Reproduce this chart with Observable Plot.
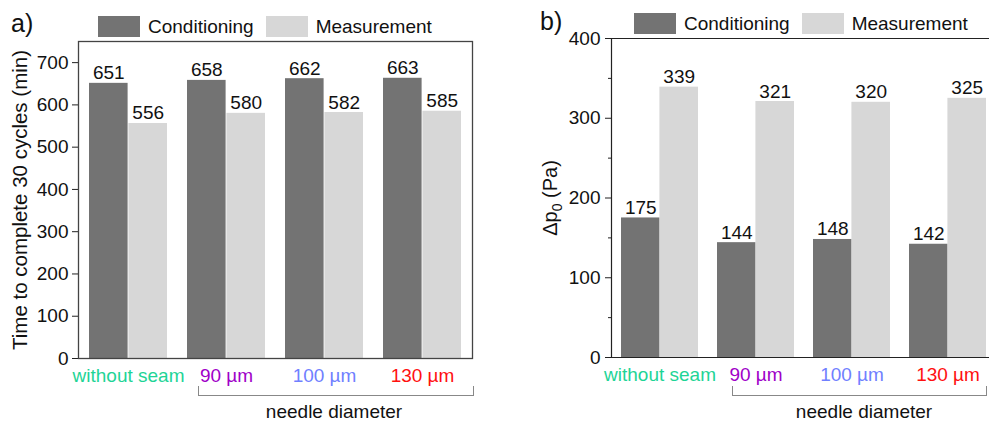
<!DOCTYPE html>
<html><head><meta charset="utf-8">
<script src="https://cdn.jsdelivr.net/npm/d3@7"></script>
<script src="https://cdn.jsdelivr.net/npm/@observablehq/plot@0.6"></script>
<style>
body{margin:0;background:#fff;font-family:"Liberation Sans",Arial,sans-serif;}
#fig{position:relative;width:989px;height:421px;overflow:hidden;background:#fff;}
.panel{position:absolute;top:0;}
.lab{position:absolute;font-size:25px;line-height:25px;color:#111;}
.legend{position:absolute;display:flex;align-items:center;font-size:19px;line-height:21px;color:#111;white-space:nowrap;}
.sw{width:42px;height:21px;margin-right:8px;}
.lt{margin-right:12px;}
.bracket{position:absolute;border:1px solid #888;border-top:none;height:9px;}
.bt{position:absolute;font-size:19px;line-height:19px;transform:translateX(-50%);white-space:nowrap;color:#111;}
</style></head><body><div id="fig"></div>
<script>
const groups = ["without seam", "90 µm", "100 µm", "130 µm"];
const groupColors = ["#1ed496", "#a000c8", "#7080ff", "#ff1010"];
const series = ["Conditioning", "Measurement"];
const seriesColors = ["#737373", "#d7d7d7"];
const timeConditioning = [651, 658, 662, 663];
const timeMeasurement = [556, 580, 582, 585];
const dpConditioning = [175, 144, 148, 142];
const dpMeasurement = [339, 321, 320, 325];
const timeTicks = [0, 100, 200, 300, 400, 500, 600, 700];
const dpTicks = [0, 100, 200, 300, 400];
const dpMinorTicks = [50, 150, 250, 350];
const bracketLabel = "needle diameter";

const fig = document.getElementById("fig");

function panel(o) {
  const height = 421;
  const bw = d3.scaleBand().domain(groups).range([o.ml, o.width - o.mr])
    .paddingInner(0.2).paddingOuter(0.1).bandwidth();
  const rows = groups.flatMap((g, i) => [
    {group: g, series: series[0], value: o.cond[i]},
    {group: g, series: series[1], value: o.meas[i]}
  ]);
  const c = rows.filter(d => d.series === series[0]);
  const m = rows.filter(d => d.series === series[1]);
  const marks = [
    Plot.barY(c, {x: "group", y: "value", fill: seriesColors[0], insetRight: bw / 2}),
    Plot.barY(m, {x: "group", y: "value", fill: seriesColors[1], insetLeft: bw / 2}),
    Plot.text(c, {x: "group", y: "value", text: d => String(d.value), dx: -bw / 4, dy: -4, lineAnchor: "bottom", fill: "#111"}),
    Plot.text(m, {x: "group", y: "value", text: d => String(d.value), dx: bw / 4, dy: -4, lineAnchor: "bottom", fill: "#111"}),
    Plot.text(groups, {x: d => d, text: d => d, frameAnchor: "bottom", lineAnchor: "top", dy: 10, fill: d => d}),
    Plot.axisY(o.ticks, {tickSize: 6, tickPadding: o.tickPadding, label: o.label, labelArrow: "none", labelAnchor: "center", labelOffset: o.labelOffset, stroke: "#222", fill: "#111"})
  ];
  if (o.minor) marks.push(Plot.axisY(o.minor, {tickSize: 3, tickFormat: () => "", label: null, stroke: "#222"}));
  if (o.fullFrame) marks.push(Plot.frame({stroke: "#444", strokeWidth: 1.3}));
  else {
    marks.push(Plot.frame({anchor: "left", stroke: "#222", strokeWidth: 1.2}));
    marks.push(Plot.frame({anchor: "bottom", stroke: "#222", strokeWidth: 1.2}));
    marks.push(Plot.frame({anchor: "top", stroke: "#222", strokeWidth: 1.2}));
  }
  const svg = Plot.plot({
    width: o.width, height,
    marginLeft: o.ml, marginRight: o.mr, marginTop: o.mt, marginBottom: o.mb,
    style: {fontSize: "19px", fontFamily: '"Liberation Sans", Arial, sans-serif', background: "transparent", overflow: "visible"},
    x: {domain: groups, paddingInner: 0.2, paddingOuter: 0.1, axis: null},
    y: {domain: o.yDomain},
    color: {domain: groups, range: groupColors},
    marks
  });
  svg.classList.add("panel");
  svg.style.left = o.left + "px";
  fig.appendChild(svg);
  return svg;
}

const svgA = panel({left: 0, width: 530, ml: 78, mr: 58, mt: 41, mb: 63, cond: timeConditioning, meas: timeMeasurement,
  yDomain: [0, 750], ticks: timeTicks, label: "Time to complete 30 cycles (min)", labelOffset: 66, tickPadding: 4, fullFrame: true});

const svgB = panel({left: 530, width: 480, ml: 81, mr: 15, mt: 38, mb: 64, cond: dpConditioning, meas: dpMeasurement,
  yDomain: [0, 400], ticks: dpTicks, minor: dpMinorTicks, label: "Δp0 (Pa)", labelOffset: 69, tickPadding: 5, fullFrame: false});

// slightly larger axis title in panel a
Array.from(svgA.querySelectorAll("text")).filter(t => t.textContent.startsWith("Time to")).forEach(t => {
  t.setAttribute("font-size", "20.5");
  t.style.fontSize = "20.5px";
});

// subscript in the Δp0 label
const ns = "http://www.w3.org/2000/svg";
Array.from(svgB.querySelectorAll("text")).filter(t => t.textContent.startsWith("Δp0")).forEach(t => {
  t.style.fontSize = "20px";
  const target = t.querySelector("tspan") || t;
  while (target.firstChild) target.removeChild(target.firstChild);
  const a = document.createElementNS(ns, "tspan"); a.textContent = "Δp";
  const b = document.createElementNS(ns, "tspan"); b.textContent = "0"; b.setAttribute("font-size", "14"); b.setAttribute("dy", "5");
  const cc = document.createElementNS(ns, "tspan"); cc.textContent = " (Pa)"; cc.setAttribute("dy", "-5");
  target.append(a, b, cc);
});

function addHTML(cls, style, html) {
  const d = document.createElement("div");
  d.className = cls; Object.assign(d.style, style); d.innerHTML = html; fig.appendChild(d); return d;
}
function legend(left, top) {
  const html = series.map((s, i) => `<div class="sw" style="background:${seriesColors[i]}"></div><div class="lt">${s}</div>`).join("");
  addHTML("legend", {left: left + "px", top: top + "px"}, html);
}
legend(98, 16);
legend(634, 13);
addHTML("lab", {left: "11px", top: "11px"}, "a)");
addHTML("lab", {left: "540px", top: "9px"}, "b)");
addHTML("bracket", {left: "198px", top: "386px", width: "274px"}, "");
addHTML("bracket", {left: "732px", top: "386px", width: "253px"}, "");
addHTML("bt", {left: "334px", top: "402px"}, bracketLabel);
addHTML("bt", {left: "864px", top: "402px"}, bracketLabel);
</script></body></html>
